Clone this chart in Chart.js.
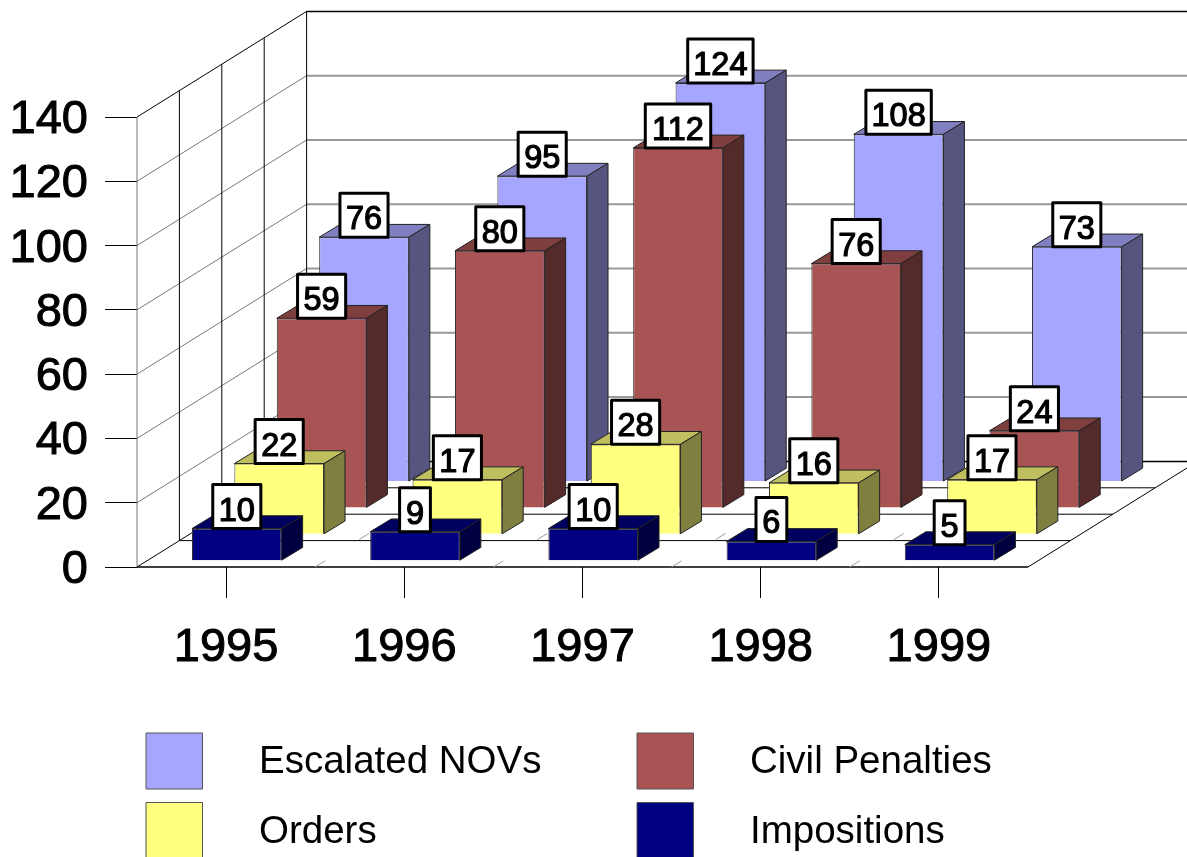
<!DOCTYPE html>
<html>
<head>
<title>Escalated enforcement actions</title>
<script src="https://cdnjs.cloudflare.com/ajax/libs/Chart.js/4.3.0/chart.umd.js"></script>
<style>
html, body { margin: 0; background: #fff; overflow: hidden; }
canvas { display: block; }
</style>
</head>
<body>
<canvas id="myChart" width="1187" height="857"></canvas>
<script>
// data
const years = ['1995', '1996', '1997', '1998', '1999'];
const escalatedNovs = [76, 95, 124, 108, 73];
const civilPenalties = [59, 80, 112, 76, 24];
const orders = [22, 17, 28, 16, 17];
const impositions = [10, 9, 10, 6, 5];

// depth of the fake 3D box
const slotX = 42.4, slotY = 26.4;
const barDepthX = 21, barDepthY = 12.8;
const font = '"Liberation Sans", Arial, sans-serif';

function series (label, data, slot, front, top, side) {
	return {
		label: label, data: data, order: slot, top: top, side: side,
		backgroundColor: front, borderColor: '#333', borderWidth: 1,
		grouped: false, barPercentage: 0.503, categoryPercentage: 1, clip: false
	};
}

function line (ctx, x1, y1, x2, y2, color, width) {
	ctx.strokeStyle = color;
	ctx.lineWidth = width;
	ctx.beginPath();
	ctx.moveTo(x1, y1);
	ctx.lineTo(x2, y2);
	ctx.stroke();
}

function poly (ctx, pts, fill) {
	ctx.fillStyle = fill;
	ctx.strokeStyle = '#222';
	ctx.lineWidth = 1;
	ctx.beginPath();
	pts.forEach((p, i) => i ? ctx.lineTo(p[0], p[1]) : ctx.moveTo(p[0], p[1]));
	ctx.closePath();
	ctx.fill();
	ctx.stroke();
}

function slotOffset (slot) {
	return [slot * slotX + (slotX - barDepthX) / 2, -(slot * slotY + (slotY - barDepthY) / 2) + 0.5];
}

const box3d = {
	id: 'box3d',
	// walls and floor
	beforeDatasetsDraw (chart) {
		const ctx = chart.ctx, a = chart.chartArea, sy = chart.scales.y, sx = chart.scales.x;
		const dx = slotX * 4, dy = slotY * 4;
		ctx.save();
		sy.ticks.forEach(t => {
			const y = sy.getPixelForValue(t.value);
			const edge = t.value === 0 || t.value === 140;
			line(ctx, a.left, y, a.left + dx, y - dy, edge ? '#000' : '#777', 1);
			line(ctx, a.left + dx, y - dy, a.right + dx, y - dy, edge ? '#000' : '#999', edge ? 1.5 : 2);
		});
		line(ctx, a.left, a.top, a.left, a.bottom, '#777', 1);
		for (let i = 1; i <= 3; i++) {
			line(ctx, a.left + i * slotX, a.top - i * slotY, a.left + i * slotX, a.bottom - i * slotY, '#000', 1);
			line(ctx, a.left + i * slotX, a.bottom - i * slotY, a.right + i * slotX, a.bottom - i * slotY, '#000', 1);
		}
		line(ctx, a.left + dx, a.top - dy, a.left + dx, a.bottom - dy, '#000', 1);
		line(ctx, a.left, a.bottom, a.right, a.bottom, '#000', 1.5);
		line(ctx, a.right, a.bottom, a.right + dx, a.bottom - dy, '#000', 1);
		// floor lines between the years
		ctx.setLineDash([11.7, 40]);
		years.forEach((y, i) => {
			if (i === 0) return;
			const x = sx.getPixelForValue(i) - (sx.getPixelForValue(1) - sx.getPixelForValue(0)) / 2;
			line(ctx, x, a.bottom, x + dx, a.bottom - dy, '#999', 1);
		});
		ctx.restore();
	},
	// the library draws the front face, shifted back to the series' depth
	beforeDatasetDraw (chart, args) {
		const ctx = chart.ctx, ds = chart.data.datasets[args.index];
		const off = slotOffset(ds.order);
		ctx.save();
		ctx.translate(off[0], off[1]);
		args.meta.data.forEach(b => {
			const l = b.x - b.width / 2, r = b.x + b.width / 2;
			poly(ctx, [[l, b.y], [r, b.y], [r + barDepthX, b.y - barDepthY], [l + barDepthX, b.y - barDepthY]], ds.top);
			poly(ctx, [[r, b.y], [r, b.base], [r + barDepthX, b.base - barDepthY], [r + barDepthX, b.y - barDepthY]], ds.side);
		});
	},
	afterDatasetDraw (chart) {
		chart.ctx.restore();
	},
	// value boxes and legend
	afterDatasetsDraw (chart) {
		const ctx = chart.ctx;
		ctx.save();
		ctx.textAlign = 'center';
		ctx.textBaseline = 'middle';
		chart.getSortedVisibleDatasetMetas().reverse().forEach(meta => {
			const ds = chart.data.datasets[meta.index];
			const off = slotOffset(ds.order);
			meta.data.forEach((b, i) => {
				const txt = String(ds.data[i]);
				const w = txt.length * 17.3 + 13.5, h = 44;
				const cx = b.x + off[0], by = b.y + off[1];
				ctx.fillStyle = '#fff';
				ctx.strokeStyle = '#000';
				ctx.lineWidth = 3;
				ctx.lineJoin = 'round';
				ctx.beginPath();
				ctx.rect(cx - w / 2, by - h, w, h);
				ctx.fill();
				ctx.stroke();
				ctx.fillStyle = '#000';
				ctx.font = '32.5px ' + font;
				ctx.lineWidth = 1.2;
				ctx.fillText(txt, cx, by - h / 2 + 5);
				ctx.strokeText(txt, cx, by - h / 2 + 5);
			});
		});
		// two by two legend, cut by the bottom of the page like the original
		const colX = [146, 637], rowY = [733, 802.5], textX = [259, 750];
		ctx.textAlign = 'left';
		ctx.font = '38.5px ' + font;
		chart.data.datasets.forEach((ds, i) => {
			const c = i % 2, r = Math.floor(i / 2);
			ctx.fillStyle = ds.backgroundColor;
			ctx.strokeStyle = '#555';
			ctx.lineWidth = 1;
			ctx.fillRect(colX[c], rowY[r], 56.5, 56);
			ctx.strokeRect(colX[c], rowY[r], 56.5, 56);
			ctx.fillStyle = '#000';
			ctx.fillText(ds.label, textX[c], rowY[r] + 29.5);
		});
		ctx.restore();
	}
};

var chart = new Chart(document.getElementById('myChart').getContext('2d'), {
	type: 'bar',
	plugins: [box3d],
	data: {
		labels: years,
		datasets: [
			series('Escalated NOVs', escalatedNovs, 3, '#A6A6FF', '#8080C0', '#55557F'),
			series('Civil Penalties', civilPenalties, 2, '#A85454', '#803F3F', '#552A2A'),
			series('Orders', orders, 1, '#FFFF80', '#BFBF60', '#7F7F40'),
			series('Impositions', impositions, 0, '#000080', '#000060', '#000040')
		]
	},
	options: {
		responsive: false,
		animation: false,
		layout: { padding: { top: 117, right: 159, left: 0, bottom: 0 } },
		plugins: { legend: { display: false }, tooltip: { enabled: false } },
		scales: {
			x: {
				afterFit (scale) { scale.height = 290; },
				grid: { offset: false, drawOnChartArea: false, tickLength: 31, color: '#000' },
				border: { display: false },
				ticks: { color: '#000', font: { size: 47, family: font }, padding: 22, maxRotation: 0, textStrokeColor: '#000', textStrokeWidth: 1 }
			},
			y: {
				min: 0,
				max: 140,
				afterFit (scale) { scale.width = 137; },
				grid: { drawOnChartArea: false, tickLength: 32, color: '#000' },
				border: { display: false },
				ticks: { stepSize: 20, color: '#000', font: { size: 47, family: font }, padding: 17, labelOffset: 3, textStrokeColor: '#000', textStrokeWidth: 1 }
			}
		}
	}
});
</script>
</body>
</html>
